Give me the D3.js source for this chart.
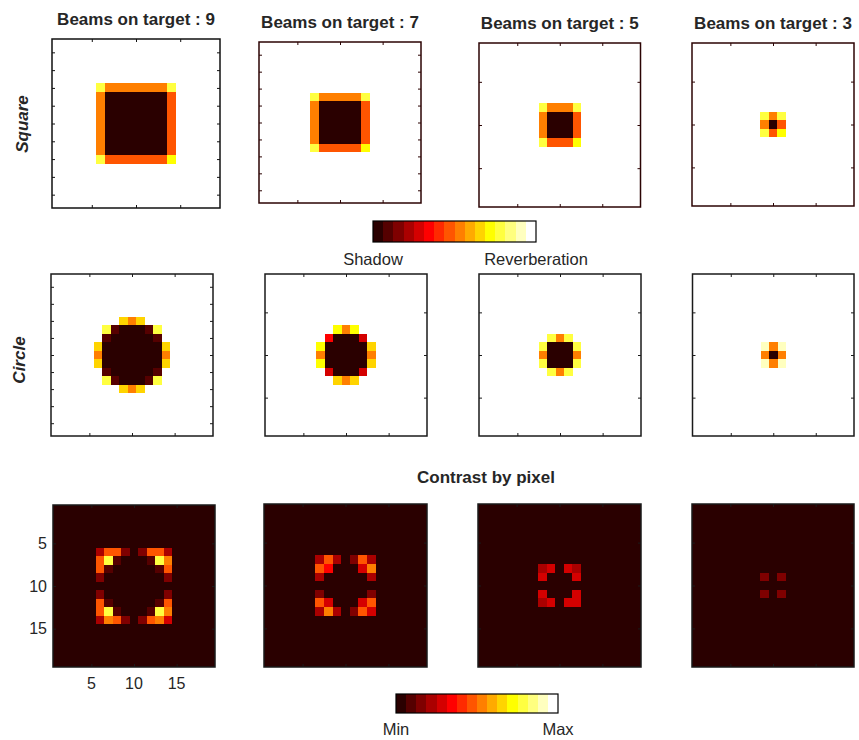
<!DOCTYPE html>
<html><head><meta charset="utf-8">
<script src="https://cdn.jsdelivr.net/npm/d3@7"></script>
<style>
html,body{margin:0;padding:0;background:#fff;}
svg{display:block;font-family:"Liberation Sans",Arial,Helvetica,sans-serif;}
</style></head><body>
<svg id="fig" width="859" height="740"></svg>
<script>
// "hot" colormap with 16 levels: level 0 is the darkest, 15 is white
const hotColors = ["#2a0000","#550000","#7f0000","#aa0000","#d40000","#ff0000","#ff2a00","#ff5500",
                   "#ff7f00","#ffaa00","#ffd400","#ffff00","#ffff40","#ffff7f","#ffffbf","#ffffff"];

const beamCounts = [9, 7, 5, 3];
const rowNames = ["Square", "Circle"];
const gridSize = 19;
const windowStart = 6;   // rows/columns 6..14 are stored; the rest is background

// Levels (hex digit = colormap level) for the 9x9 central window of each image
const squareMaps = [
  ["c8888888c","800000007","800000007","800000007","800000007","800000007","800000007","800000007","c7777777b"],
  ["fffffffff","fc88888cf","f8000007f","f8000007f","f8000007f","f8000007f","f8000007f","fc77777bf","fffffffff"],
  ["fffffffff","fffffffff","ffc888cff","ff80007ff","ff80007ff","ff80007ff","ffc777bff","fffffffff","fffffffff"],
  ["fffffffff","fffffffff","fffffffff","fffc8cfff","fff807fff","fffc7bfff","fffffffff","fffffffff","fffffffff"]
];
const circleMaps = [
  ["fffa8afff","fc10001cf","f1000001f","a0000000a","800000008","a0000000a","f1000001f","fc10001cf","fffa8afff"],
  ["fffffffff","fffb8bfff","ff50004ff","fb00000af","f8000008f","fb00000af","ff40004ff","fffa8afff","fffffffff"],
  ["fffffffff","fffffffff","fffc8cfff","ffc000cff","ff80008ff","ffc000cff","fffc8cfff","fffffffff","fffffffff"],
  ["fffffffff","fffffffff","fffffffff","fffe8efff","fff808fff","fffe8efff","fffffffff","fffffffff","fffffffff"]
];
const contrastMaps = [
  ["377202773","7c10001c8","710000017","200000002","000000000","200000002","710000017","7c10001c8","387202784"],
  ["000000000","037302730","075000480","030000030","000000000","020000020","074000470","038302740","000000000"],
  ["000000000","000000000","003404300","004000400","000000000","004000400","003404400","000000000","000000000"],
  ["000000000","000000000","000000000","000202000","000000000","000202000","000000000","000000000","000000000"]
];

const ticksCoarse = [5, 10, 15];
const ticksFine = [2, 4, 6, 8, 10, 12, 14, 16, 18];
const targetScaleLabels = ["Shadow", "Reverberation"];
const contrastScaleLabels = ["Min", "Max"];

// ---- figure layout ----
const svg = d3.select("#fig");
const textColor = "#262626";

const panelRows = [
  { maps: squareMaps, bg: "f",
    boxes: [[52,39,220,208],[259,42,421,203],[479,43,640.5,207],[692,43,854,206]],
    yTicks: [ticksFine, ticksFine, ticksCoarse, ticksCoarse],
    stroke: ["#111","#2b0303","#2b0303","#2b0303"], labels: false },
  { maps: circleMaps, bg: "f",
    boxes: [[51,274,213,436],[265,274,427,436],[479,274,641,436],[692.5,274,854,436]],
    yTicks: [ticksFine, ticksCoarse, ticksCoarse, ticksCoarse],
    stroke: ["#1a1a1a","#1a1a1a","#1a1a1a","#1a1a1a"], labels: false },
  { maps: contrastMaps, bg: "0",
    boxes: [[53,505,215,667],[264,504,427,667],[478,504,641,667],[692,504,854,667]],
    yTicks: [ticksCoarse, ticksCoarse, ticksCoarse, ticksCoarse],
    stroke: ["#1a1a1a","#1a1a1a","#1a1a1a","#1a1a1a"], labels: [true,false,false,false] }
];

function cellsOf(map, bg) {
  const cells = [];
  for (let r = 1; r <= gridSize; r++) {
    for (let c = 1; c <= gridSize; c++) {
      const wr = r - windowStart, wc = c - windowStart;
      let ch = bg;
      if (wr >= 0 && wr < map.length && wc >= 0 && wc < map[wr].length) ch = map[wr][wc];
      cells.push({ row: r, col: c, level: parseInt(ch, 16) });
    }
  }
  return cells;
}

panelRows.forEach((pr, ri) => {
  pr.boxes.forEach((b, pi) => {
    const [x0, y0, x1, y1] = b;
    const x = d3.scaleLinear().domain([0.5, gridSize + 0.5]).range([x0, x1]);
    const y = d3.scaleLinear().domain([0.5, gridSize + 0.5]).range([y0, y1]);
    const g = svg.append("g");

    // image cells; edges snapped so neighbouring cells leave no seams
    g.append("g").attr("shape-rendering", "crispEdges").selectAll("rect")
      .data(cellsOf(pr.maps[pi], pr.bg))
      .join("rect")
      .attr("x", d => Math.round(x(d.col - 0.5)))
      .attr("y", d => Math.round(y(d.row - 0.5)))
      .attr("width", d => Math.round(x(d.col + 0.5)) - Math.round(x(d.col - 0.5)))
      .attr("height", d => Math.round(y(d.row + 0.5)) - Math.round(y(d.row - 0.5)))
      .attr("fill", d => hotColors[d.level]);

    const withLabels = pr.labels && pr.labels[pi];
    const tickLen = 3;
    const axes = [
      [d3.axisTop(x).tickValues(ticksCoarse), `translate(0,${y0})`],
      [d3.axisBottom(x).tickValues(ticksCoarse), `translate(0,${y1})`],
      [d3.axisLeft(y).tickValues(pr.yTicks[pi]), `translate(${x0},0)`],
      [d3.axisRight(y).tickValues(pr.yTicks[pi]), `translate(${x1},0)`]
    ];
    axes.forEach(([ax, tr]) => {
      const a = g.append("g").attr("transform", tr)
        .call(ax.tickSize(-tickLen).tickFormat(""));
      a.select(".domain").remove();
      a.selectAll(".tick line").attr("stroke", pr.stroke[pi]).attr("stroke-width", 1);
    });

    if (withLabels) {
      g.append("g").selectAll("text").data(ticksCoarse).join("text")
        .attr("x", x0 - 6).attr("y", d => y(d)).attr("dy", "0.36em")
        .attr("text-anchor", "end").attr("font-size", 16).attr("fill", textColor)
        .text(d => d);
      g.append("g").selectAll("text").data(ticksCoarse).join("text")
        .attr("x", d => x(d)).attr("y", y1 + 22)
        .attr("text-anchor", "middle").attr("font-size", 16).attr("fill", textColor)
        .text(d => d);
    }

    g.append("rect").attr("x", x0).attr("y", y0)
      .attr("width", x1 - x0).attr("height", y1 - y0)
      .attr("fill", "none").attr("stroke", pr.stroke[pi]).attr("stroke-width", 1.5);

    if (ri === 0) {
      svg.append("text").attr("x", (x0 + x1) / 2).attr("y", y0 - 14)
        .attr("text-anchor", "middle").attr("font-size", 17).attr("font-weight", "bold")
        .attr("fill", textColor).text(`Beams on target : ${beamCounts[pi]}`);
    }
  });
});

// row labels
[[28, 124], [25, 360]].forEach((p, i) => {
  svg.append("text").attr("transform", `translate(${p[0]},${p[1]}) rotate(-90)`)
    .attr("text-anchor", "middle").attr("font-size", 17)
    .attr("font-weight", "bold").attr("font-style", "italic")
    .attr("fill", textColor).text(rowNames[i]);
});

svg.append("text").attr("x", 486).attr("y", 483).attr("text-anchor", "middle")
  .attr("font-size", 17).attr("font-weight", "bold").attr("fill", textColor)
  .text("Contrast by pixel");

// colour bars
function colorBar(x0, x1, y0, y1, labels, labelY) {
  const xb = d3.scaleBand().domain(d3.range(hotColors.length)).range([x0, x1]);
  const g = svg.append("g");
  g.append("g").attr("shape-rendering", "crispEdges")
    .selectAll("rect").data(hotColors).join("rect")
    .attr("x", (d, i) => Math.round(xb(i))).attr("y", y0)
    .attr("width", (d, i) => Math.round(xb(i) + xb.bandwidth()) - Math.round(xb(i)))
    .attr("height", y1 - y0)
    .attr("fill", d => d);
  g.append("rect").attr("x", x0).attr("y", y0).attr("width", x1 - x0).attr("height", y1 - y0)
    .attr("fill", "none").attr("stroke", "#000").attr("stroke-width", 1.2);
  g.selectAll("text").data(labels).join("text")
    .attr("x", (d, i) => i === 0 ? x0 : x1).attr("y", labelY)
    .attr("text-anchor", "middle").attr("font-size", 16.5).attr("fill", textColor)
    .text(d => d);
}
colorBar(373, 536, 221, 242, targetScaleLabels, 265);
colorBar(396, 558, 694, 713, contrastScaleLabels, 735);
</script>
</body></html>
